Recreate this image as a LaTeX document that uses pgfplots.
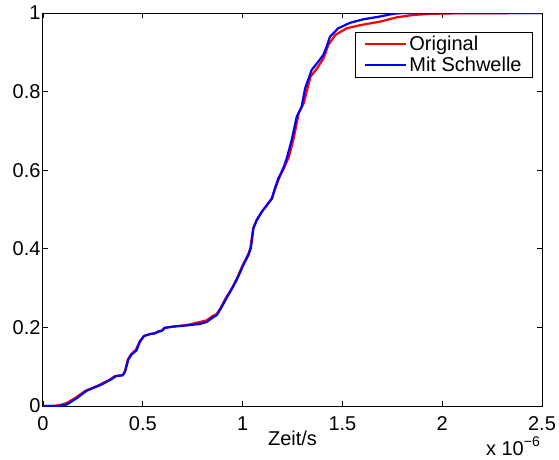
\documentclass[border=0pt]{standalone}
\usepackage{fontspec}
\setmainfont{Liberation Sans}
\usepackage{pgfplots}
\pgfplotsset{compat=1.18}
\begin{document}
\begin{tikzpicture}[x=1pt,y=1pt]
\useasboundingbox (-43,-53) rectangle (516,406);
\begin{axis}[
  name=ax,
  at={(0,0)}, anchor=origin,
  scale only axis, width=499pt, height=393pt,
  xmin=0, xmax=2.5, ymin=0, ymax=1,
  xtick={0,0.5,1,1.5,2,2.5},
  xticklabels={0,0.5,1,1.5,2,2.5},
  ytick={0,0.2,0.4,0.6,0.8,1},
  yticklabels={0,0.2,0.4,0.6,0.8,1},
  tick align=inside,
  major tick length=5pt,
  axis line style={line width=1pt},
  every tick/.style={black, line width=0.8pt},
  tick label style={font=\fontsize{20}{23}\selectfont},
  xticklabel style={yshift=-7pt},
  yticklabel style={xshift=1pt},
  xlabel={Zeit/s},
  xlabel style={font=\fontsize{20}{23}\selectfont, at={(rel axis cs:0.5,0)}, anchor=north, yshift=-21pt},
  legend style={at={(rel axis cs:0.982,0.9517)}, anchor=north east,
    font=\fontsize{20}{23}\selectfont, draw=black, line width=0.8pt,
    inner xsep=9pt, inner ysep=2pt, row sep=1pt},
  legend cell align=left,
  legend image code/.code={\draw[#1, line width=2.2pt] (0pt,0pt) -- (33pt,0pt); \path (0pt,0pt) -- (41pt,0pt);},
]
\addplot[red, line width=2.2pt] coordinates {
(0,0) (0.05,0) (0.09,0.003) (0.12,0.008) (0.16,0.02) (0.21,0.038) (0.28,0.053)
(0.33,0.066) (0.36,0.076) (0.40,0.079) (0.41,0.088) (0.425,0.118) (0.44,0.131)
(0.465,0.143) (0.485,0.165) (0.505,0.178) (0.535,0.183) (0.56,0.185) (0.578,0.190)
(0.595,0.192) (0.61,0.199) (0.65,0.202) (0.72,0.206) (0.78,0.213) (0.82,0.218)
(0.85,0.229) (0.87,0.234) (0.89,0.25) (0.915,0.274) (0.95,0.303) (0.975,0.329)
(1.0,0.358) (1.027,0.385) (1.039,0.402) (1.047,0.431) (1.053,0.452) (1.07,0.473)
(1.096,0.494) (1.122,0.511) (1.148,0.528) (1.164,0.554) (1.182,0.579) (1.207,0.605)
(1.232,0.634) (1.256,0.681) (1.281,0.745) (1.306,0.77) (1.34,0.838) (1.373,0.859)
(1.405,0.884) (1.43,0.919) (1.464,0.944) (1.521,0.961) (1.588,0.969) (1.688,0.978)
(1.772,0.989) (1.855,0.995) (1.95,0.998) (2.05,0.999) (2.5,1)
};
\addlegendentry{Original}
\addplot[blue, line width=2.2pt] coordinates {
(0,0) (0.08,0) (0.12,0.004) (0.169,0.02) (0.219,0.039) (0.286,0.053) (0.336,0.066)
(0.366,0.076) (0.399,0.078) (0.411,0.087) (0.428,0.119) (0.444,0.131) (0.469,0.142)
(0.486,0.164) (0.506,0.178) (0.536,0.183) (0.561,0.185) (0.578,0.189) (0.595,0.191)
(0.611,0.199) (0.653,0.202) (0.72,0.205) (0.787,0.209) (0.82,0.214) (0.853,0.226)
(0.87,0.231) (0.89,0.247) (0.92,0.275) (0.953,0.304) (0.978,0.329) (1.004,0.359)
(1.029,0.384) (1.041,0.401) (1.049,0.431) (1.054,0.452) (1.071,0.473) (1.096,0.494)
(1.121,0.511) (1.146,0.528) (1.162,0.554) (1.179,0.579) (1.204,0.605) (1.221,0.63)
(1.246,0.677) (1.271,0.736) (1.296,0.762) (1.313,0.808) (1.346,0.855) (1.379,0.876)
(1.404,0.893) (1.421,0.914) (1.438,0.94) (1.479,0.961) (1.538,0.975) (1.605,0.984)
(1.688,0.991) (1.755,0.998) (1.8,1) (2.5,1)
};
\addlegendentry{Mit Schwelle}
\end{axis}
\node[anchor=south east, font=\fontsize{20}{23}\selectfont, inner sep=0pt]
  at (497,-50) {x 10\raisebox{0.45em}{\fontsize{14}{16}\selectfont −6}};
\end{tikzpicture}
\end{document}
